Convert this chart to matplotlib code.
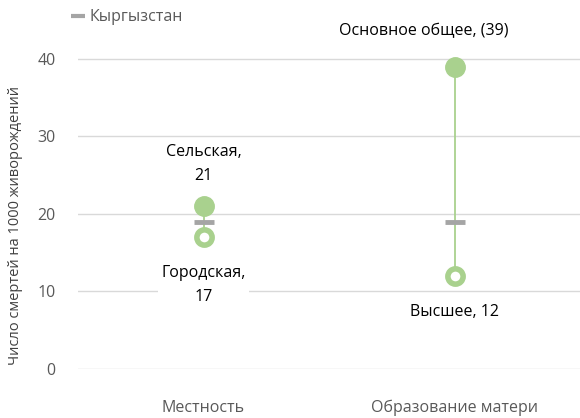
import matplotlib.pyplot as plt
from matplotlib.lines import Line2D

plt.rcParams['font.family'] = ['Open Sans', 'DejaVu Sans']

categories = ['Местность', 'Образование матери']
high_values = [21, 39]
low_values = [17, 12]
country_values = [19, 19]
high_labels = ['Сельская,\n21', 'Основное общее, (39)']
low_labels = ['Городская,\n17', 'Высшее, 12']
country_name = 'Кыргызстан'
y_ticks = [0, 10, 20, 30, 40]

green = '#A9D18E'
grey = '#A5A5A5'
text_grey = '#595959'
fs = 11.5

fig = plt.figure(figsize=(5.8, 4.18), dpi=100)
ax = fig.add_axes([78 / 580, 49 / 418, 502 / 580, 349 / 418])

xs = list(range(len(categories)))
for x, hi, lo in zip(xs, high_values, low_values):
    ax.plot([x, x], [lo, hi], color=green, lw=1.3, zorder=2)

ax.plot(xs, high_values, 'o', ms=14, color=green, mec=green, ls='none', zorder=3)
ax.plot(xs, low_values, 'o', ms=11, mfc='white', mec=green, mew=4, ls='none', zorder=3)
ax.plot(xs, country_values, '_', ms=14, mew=3.5, color=grey, ls='none', zorder=4)

# labels
ax.annotate(high_labels[0], (xs[0], high_values[0]), xytext=(0, 16), textcoords='offset points',
            ha='center', va='bottom', fontsize=fs, linespacing=1.7)
ax.annotate(high_labels[1], (xs[1], high_values[1]), xytext=(-22, 20), textcoords='offset points',
            ha='center', va='bottom', fontsize=fs)
ax.annotate(low_labels[0], (xs[0], low_values[0]), xytext=(0, -20), textcoords='offset points',
            ha='center', va='top', fontsize=fs, linespacing=1.7,
            bbox=dict(boxstyle='square,pad=0.2', fc='white', ec='none'))
ax.annotate(low_labels[1], (xs[1], low_values[1]), xytext=(0, -20), textcoords='offset points',
            ha='center', va='top', fontsize=fs,
            bbox=dict(boxstyle='square,pad=0.3', fc='white', ec='none'))

ax.set_xlim(-0.5, 1.5)
ax.set_ylim(0, 45)
ax.set_yticks(y_ticks)
ax.set_xticks(xs)
ax.set_xticklabels(categories)
ax.tick_params(axis='both', length=0, labelsize=fs, labelcolor=text_grey)
ax.tick_params(axis='x', pad=22)
ax.tick_params(axis='y', pad=16)
ax.grid(axis='y', color='#D9D9D9', lw=1)
ax.set_axisbelow(True)
for s in ax.spines.values():
    s.set_visible(False)

ax.set_ylabel('Число смертей на 1000 живорождений', fontsize=10.5, color='#404040')
ax.yaxis.set_label_coords(-0.11, 0.41)

handle = Line2D([], [], marker='_', ms=10, mew=3, color=grey, ls='none')
fig.legend([handle], [country_name], loc='upper left', bbox_to_anchor=(62 / 580, 1 - 3 / 418),
           frameon=False, fontsize=fs, labelcolor=text_grey, handletextpad=0.1,
           borderaxespad=0, handlelength=1.2)

fig.savefig('out.png', dpi=100)
